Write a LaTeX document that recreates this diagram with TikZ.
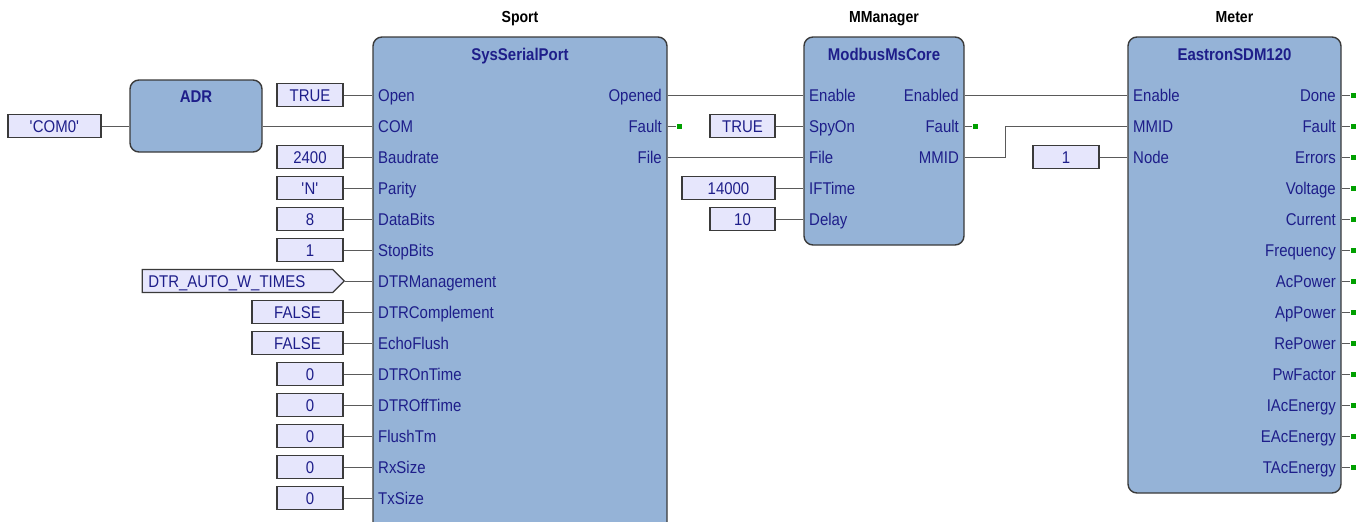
\documentclass[tikz,border=0pt]{standalone}
\usepackage{fontspec}
\setmainfont[FakeStretch=0.88]{Liberation Sans}
\usetikzlibrary{positioning,shapes.symbols}
\definecolor{fbblue}{HTML}{95B3D7}
\definecolor{fbline}{HTML}{3A3A3A}
\definecolor{cstfill}{HTML}{E6E6FC}
\definecolor{pintxt}{HTML}{1E1E8A}
\definecolor{wiregray}{HTML}{5A5A5A}
\definecolor{okgreen}{HTML}{00A000}
\newcommand\pinfont{\fontsize{17}{19}\selectfont}

\begin{document}
\begin{tikzpicture}[x=1pt,y=-1pt,every node/.style={font=\pinfont},
  fb/.style={draw=fbline,fill=fbblue,line width=1.4pt,rounded corners=9pt,inner sep=0pt},
  cst/.style={draw=fbline,fill=cstfill,line width=1.2pt,minimum height=23pt,inner sep=0pt,text=pintxt,text height=14pt,text depth=2pt},
  pinl/.style={anchor=west,inner sep=0pt,text=pintxt,text height=14pt,text depth=2pt},
  pinr/.style={anchor=east,inner sep=0pt,text=pintxt,text height=14pt,text depth=2pt},
  fbtitle/.style={inner sep=0pt,text=pintxt,font=\pinfont\bfseries,text height=14pt,text depth=2pt},
  fbname/.style={inner sep=0pt,font=\fontsize{16}{18}\selectfont\bfseries,text height=14pt,text depth=2pt},
  wire/.style={draw=wiregray,line width=1pt},
  okdot/.style={fill=okgreen,minimum size=5pt,inner sep=0pt}]
\useasboundingbox (0,0) rectangle (1366,522);
\clip (0,0) rectangle (1366,522);
% function blocks
\node[fb,minimum width=132pt,minimum height=72pt] (adr) at (196,116) {};
\node[fbtitle] (adr-t) at (196,96) {ADR};
\node[fb,minimum width=294pt,minimum height=500pt] (sport) at (520,287) {};
\node[fbtitle] (sport-t) at (520,54) {SysSerialPort};
\node[fbname] (sport-n) at (520,17) {Sport};
\node[fb,minimum width=160pt,minimum height=208pt] (mm) at (884,141) {};
\node[fbtitle] (mm-t) at (884,54) {ModbusMsCore};
\node[fbname] (mm-n) at (884,17) {MManager};
\node[fb,minimum width=213pt,minimum height=456pt] (meter) at (1234.5,265) {};
\node[fbtitle] (meter-t) at (1234.5,54) {EastronSDM120};
\node[fbname] (meter-n) at (1234.5,17) {Meter};
% ADR
\node[cst,minimum width=93pt] (k-com0) at (54.5,126) {\textquotesingle COM0\textquotesingle};
\draw[wire] (k-com0.east) -- (k-com0.east -| adr.west);
% Sport inputs
\node[cst,minimum width=66pt] (k-open) at (310,95) {TRUE}; \node[pinl] (si-open) at (378,95) {Open};
\draw[wire] (k-open.east) -- (si-open.west -| sport.west);
\node[pinl] (si-com) at (378,126) {COM};
\draw[wire] (si-com.west -| adr.east) -- (si-com.west -| sport.west);
\node[cst,minimum width=66pt] (k-baud) at (310,157) {2400}; \node[pinl] (si-baud) at (378,157) {Baudrate};
\draw[wire] (k-baud.east) -- (si-baud.west -| sport.west);
\node[cst,minimum width=66pt] (k-par) at (310,188) {\textquotesingle N\textquotesingle}; \node[pinl] (si-par) at (378,188) {Parity};
\draw[wire] (k-par.east) -- (si-par.west -| sport.west);
\node[cst,minimum width=66pt] (k-data) at (310,219) {8}; \node[pinl] (si-data) at (378,219) {DataBits};
\draw[wire] (k-data.east) -- (si-data.west -| sport.west);
\node[cst,minimum width=66pt] (k-stop) at (310,250) {1}; \node[pinl] (si-stop) at (378,250) {StopBits};
\draw[wire] (k-stop.east) -- (si-stop.west -| sport.west);
\node[cst,signal,signal to=east,anchor=east,minimum width=202pt,inner xsep=5pt,text width=178pt,align=left] (k-dtrm) at (345,281) {DTR\_AUTO\_W\_TIMES}; \node[pinl] (si-dtrm) at (378,281) {DTRManagement};
\draw[wire] (k-dtrm.east) -- (si-dtrm.west -| sport.west);
\node[cst,minimum width=91pt] (k-dtrc) at (297.5,312) {FALSE}; \node[pinl] (si-dtrc) at (378,312) {DTRComplement};
\draw[wire] (k-dtrc.east) -- (si-dtrc.west -| sport.west);
\node[cst,minimum width=91pt] (k-echo) at (297.5,343) {FALSE}; \node[pinl] (si-echo) at (378,343) {EchoFlush};
\draw[wire] (k-echo.east) -- (si-echo.west -| sport.west);
\node[cst,minimum width=66pt] (k-ont) at (310,374) {0}; \node[pinl] (si-ont) at (378,374) {DTROnTime};
\draw[wire] (k-ont.east) -- (si-ont.west -| sport.west);
\node[cst,minimum width=66pt] (k-offt) at (310,405) {0}; \node[pinl] (si-offt) at (378,405) {DTROffTime};
\draw[wire] (k-offt.east) -- (si-offt.west -| sport.west);
\node[cst,minimum width=66pt] (k-flush) at (310,436) {0}; \node[pinl] (si-flush) at (378,436) {FlushTm};
\draw[wire] (k-flush.east) -- (si-flush.west -| sport.west);
\node[cst,minimum width=66pt] (k-rx) at (310,467) {0}; \node[pinl] (si-rx) at (378,467) {RxSize};
\draw[wire] (k-rx.east) -- (si-rx.west -| sport.west);
\node[cst,minimum width=66pt] (k-tx) at (310,498) {0}; \node[pinl] (si-tx) at (378,498) {TxSize};
\draw[wire] (k-tx.east) -- (si-tx.west -| sport.west);
% Sport outputs
\node[pinr] (so-opened) at (662,95) {Opened};
\node[pinr] (so-fault) at (662,126) {Fault};
\node[pinr] (so-file) at (662,157) {File};
\node[okdot] (so-fault-d) at (679,126) {};
\draw[wire] (so-fault.east -| sport.east) -- (so-fault-d);
% MManager
\node[pinl] (mi-en) at (809,95) {Enable};
\draw[wire] (so-opened.east -| sport.east) -- (mi-en.west -| mm.west);
\node[cst,minimum width=65pt] (k-spy) at (742.5,126) {TRUE}; \node[pinl] (mi-spy) at (809,126) {SpyOn};
\draw[wire] (k-spy.east) -- (mi-spy.west -| mm.west);
\node[pinl] (mi-file) at (809,157) {File};
\draw[wire] (so-file.east -| sport.east) -- (mi-file.west -| mm.west);
\node[cst,minimum width=93pt] (k-ift) at (728.5,188) {14000}; \node[pinl] (mi-ift) at (809,188) {IFTime};
\draw[wire] (k-ift.east) -- (mi-ift.west -| mm.west);
\node[cst,minimum width=65pt] (k-delay) at (742.5,219) {10}; \node[pinl] (mi-delay) at (809,219) {Delay};
\draw[wire] (k-delay.east) -- (mi-delay.west -| mm.west);
\node[pinr] (mo-en) at (959,95) {Enabled};
\node[pinr] (mo-fault) at (959,126) {Fault};
\node[pinr] (mo-mmid) at (959,157) {MMID};
\node[okdot] (mo-fault-d) at (975,126) {};
\draw[wire] (mo-fault.east -| mm.east) -- (mo-fault-d);
% Meter
\node[pinl] (ei-en) at (1133,95) {Enable};
\draw[wire] (mo-en.east -| mm.east) -- (ei-en.west -| meter.west);
\node[pinl] (ei-mmid) at (1133,126) {MMID};
\coordinate (mmid-bend) at (1005,157);
\draw[wire] (mo-mmid.east -| mm.east) -- (mmid-bend) |- (ei-mmid.west -| meter.west);
\node[cst,minimum width=66pt] (k-node) at (1066,157) {1}; \node[pinl] (ei-node) at (1133,157) {Node};
\draw[wire] (k-node.east) -- (ei-node.west -| meter.west);
\node[pinr] (eo-done) at (1336,95) {Done}; \node[okdot] (eo-done-d) at (1353,95) {}; \draw[wire] (eo-done.east -| meter.east) -- (eo-done-d);
\node[pinr] (eo-fault) at (1336,126) {Fault}; \node[okdot] (eo-fault-d) at (1353,126) {}; \draw[wire] (eo-fault.east -| meter.east) -- (eo-fault-d);
\node[pinr] (eo-err) at (1336,157) {Errors}; \node[okdot] (eo-err-d) at (1353,157) {}; \draw[wire] (eo-err.east -| meter.east) -- (eo-err-d);
\node[pinr] (eo-volt) at (1336,188) {Voltage}; \node[okdot] (eo-volt-d) at (1353,188) {}; \draw[wire] (eo-volt.east -| meter.east) -- (eo-volt-d);
\node[pinr] (eo-curr) at (1336,219) {Current}; \node[okdot] (eo-curr-d) at (1353,219) {}; \draw[wire] (eo-curr.east -| meter.east) -- (eo-curr-d);
\node[pinr] (eo-freq) at (1336,250) {Frequency}; \node[okdot] (eo-freq-d) at (1353,250) {}; \draw[wire] (eo-freq.east -| meter.east) -- (eo-freq-d);
\node[pinr] (eo-acp) at (1336,281) {AcPower}; \node[okdot] (eo-acp-d) at (1353,281) {}; \draw[wire] (eo-acp.east -| meter.east) -- (eo-acp-d);
\node[pinr] (eo-app) at (1336,312) {ApPower}; \node[okdot] (eo-app-d) at (1353,312) {}; \draw[wire] (eo-app.east -| meter.east) -- (eo-app-d);
\node[pinr] (eo-rep) at (1336,343) {RePower}; \node[okdot] (eo-rep-d) at (1353,343) {}; \draw[wire] (eo-rep.east -| meter.east) -- (eo-rep-d);
\node[pinr] (eo-pwf) at (1336,374) {PwFactor}; \node[okdot] (eo-pwf-d) at (1353,374) {}; \draw[wire] (eo-pwf.east -| meter.east) -- (eo-pwf-d);
\node[pinr] (eo-iae) at (1336,405) {IAcEnergy}; \node[okdot] (eo-iae-d) at (1353,405) {}; \draw[wire] (eo-iae.east -| meter.east) -- (eo-iae-d);
\node[pinr] (eo-eae) at (1336,436) {EAcEnergy}; \node[okdot] (eo-eae-d) at (1353,436) {}; \draw[wire] (eo-eae.east -| meter.east) -- (eo-eae-d);
\node[pinr] (eo-tae) at (1336,467) {TAcEnergy}; \node[okdot] (eo-tae-d) at (1353,467) {}; \draw[wire] (eo-tae.east -| meter.east) -- (eo-tae-d);
\end{tikzpicture}
\end{document}
